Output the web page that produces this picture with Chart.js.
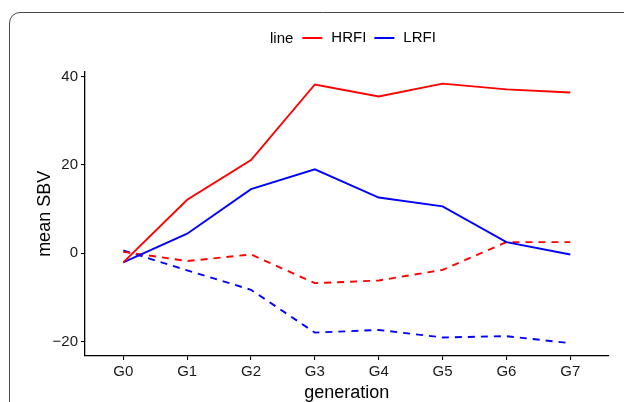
<!DOCTYPE html>
<html>
<head>
<meta charset="utf-8">
<script src="https://cdn.jsdelivr.net/npm/chart.js@4"></script>
<style>
  html, body { margin: 0; padding: 0; background: #fff; }
  #wrap { width: 624px; height: 402px; position: relative; overflow: hidden; }
</style>
</head>
<body>
<div id="wrap"><canvas id="c" width="624" height="402"></canvas></div>
<script>
const generations = ['G0', 'G1', 'G2', 'G3', 'G4', 'G5', 'G6', 'G7'];
const hrfiSolid  = [-2.1, 12.1, 21.1, 38.2, 35.5, 38.4, 37.1, 36.4];
const lrfiSolid  = [-2.1, 4.4, 14.5, 19.0, 12.6, 10.6, 2.5, -0.3];
const hrfiDashed = [0.3, -1.8, -0.3, -6.8, -6.2, -3.8, 2.5, 2.5];
const lrfiDashed = [0.6, -3.9, -8.3, -18.0, -17.4, -19.1, -18.8, -20.4];
const yTicks = [-20, 0, 20, 40];
const legendTitle = 'line';
const xTitle = 'generation';
const yTitle = 'mean SBV';

const RED = '#ff0000', BLUE = '#0000ff';
const FONT = '"Liberation Sans", Arial, sans-serif';
const toXY = arr => arr.map((v, i) => ({ x: i, y: v }));

const ds = (label, values, color, dashed) => ({
  label, data: toXY(values), borderColor: color, backgroundColor: color,
  borderWidth: 1.9, pointRadius: 0, tension: 0, fill: false,
  borderDash: dashed ? [7, 6] : [], showInLegend: !dashed
});

const decor = {
  id: 'decor',
  beforeDraw(chart) {
    const ctx = chart.ctx;
    ctx.save();
    ctx.fillStyle = '#fff';
    ctx.fillRect(0, 0, chart.width, chart.height);
    // rounded frame
    ctx.strokeStyle = '#4a4a4a';
    ctx.lineWidth = 1;
    ctx.beginPath();
    ctx.moveTo(9.5, 410);
    ctx.lineTo(9.5, 23);
    ctx.arcTo(9.5, 12.5, 20, 12.5, 10.5);
    ctx.lineTo(640, 12.5);
    ctx.stroke();
    ctx.restore();
  },
  afterDraw(chart) {
    const ctx = chart.ctx;
    const area = chart.chartArea;
    ctx.save();
    ctx.fillStyle = '#000';
    // axis titles
    ctx.font = '18px ' + FONT;
    ctx.textAlign = 'center';
    ctx.textBaseline = 'middle';
    ctx.fillText(xTitle, (area.left + area.right) / 2, 393);
    ctx.save();
    ctx.translate(45, (area.top + area.bottom) / 2);
    ctx.rotate(-Math.PI / 2);
    ctx.fillText(yTitle, 0, 0);
    ctx.restore();
    // legend
    ctx.font = '15px ' + FONT;
    ctx.textAlign = 'left';
    ctx.textBaseline = 'middle';
    const ly = 38;
    let x = 270;
    ctx.fillText(legendTitle, x, ly + 1);
    x += ctx.measureText(legendTitle).width + 9;
    chart.data.datasets.filter(d => d.showInLegend).forEach(d => {
      ctx.strokeStyle = d.borderColor;
      ctx.lineWidth = 2;
      ctx.beginPath();
      ctx.moveTo(x, ly);
      ctx.lineTo(x + 20, ly);
      ctx.stroke();
      x += 29;
      ctx.fillStyle = '#000';
      ctx.fillText(d.label, x, ly);
      x += ctx.measureText(d.label).width + 8;
    });
    ctx.restore();
  }
};

new Chart(document.getElementById('c'), {
  type: 'line',
  data: {
    datasets: [
      ds('HRFI', hrfiSolid, RED, false),
      ds('LRFI', lrfiSolid, BLUE, false),
      ds('HRFI', hrfiDashed, RED, true),
      ds('LRFI', lrfiDashed, BLUE, true)
    ]
  },
  options: {
    responsive: false,
    animation: false,
    layout: { padding: { left: 0, top: 71.7, right: 15.4, bottom: 0 } },
    plugins: { legend: { display: false }, tooltip: { enabled: false } },
    scales: {
      x: {
        type: 'linear', min: -0.6, max: 7.6,
        afterBuildTicks: s => { s.ticks = generations.map((_, i) => ({ value: i })); },
        afterFit: s => { s.height = 46; },
        grid: { drawOnChartArea: false, drawTicks: true, tickLength: 4, color: '#000', lineWidth: 1.1 },
        border: { display: true, color: '#000', width: 1.3 },
        ticks: { callback: v => generations[v], color: '#1a1a1a', font: { family: FONT, size: 15 }, padding: 3, maxRotation: 0, autoSkip: false }
      },
      y: {
        type: 'linear', min: -23.3, max: 41.1,
        afterBuildTicks: s => { s.ticks = yTicks.map(v => ({ value: v })); },
        afterFit: s => { s.width = 85; },
        grid: { drawOnChartArea: false, drawTicks: true, tickLength: 4, color: '#000', lineWidth: 1.1 },
        border: { display: true, color: '#000', width: 1.3 },
        ticks: { callback: v => (v < 0 ? '\u2212' + Math.abs(v) : String(v)), color: '#1a1a1a', font: { family: FONT, size: 15 }, padding: 3 }
      }
    }
  },
  plugins: [decor]
});
</script>
</body>
</html>
